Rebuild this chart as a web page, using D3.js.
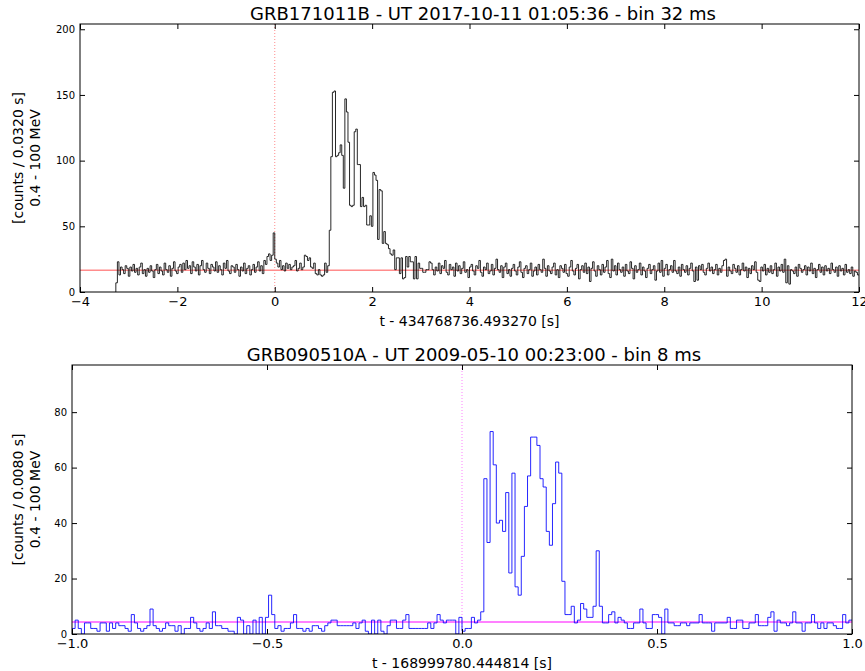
<!DOCTYPE html>
<html>
<head>
<meta charset="utf-8">
<script src="https://cdnjs.cloudflare.com/ajax/libs/d3/7.8.5/d3.min.js"></script>
<style>
body { margin: 0; background: #fff; }
text { font-family: "DejaVu Sans", sans-serif; fill: #000; }
</style>
</head>
<body>
<svg width="865" height="671"></svg>
<script>
// light curves

// GRB171011B, 32 ms bins, first bin starts at t = -3.264 s
var grbA_title = "GRB171011B - UT 2017-10-11 01:05:36 - bin 32 ms";
var grbA_xlabel = "t - 434768736.493270 [s]";
var grbA_ylabel = ["[counts / 0.0320 s]", "0.4 - 100 MeV"];
var grbA_start = -3.264, grbA_bin = 0.032;
var grbA_bkg = 16.6;
var grbA_xticks = [-4, -2, 0, 2, 4, 6, 8, 10, 12];
var grbA_yticks = [0, 50, 100, 150, 200];
var grbA_counts = [
  7, 23, 13, 19, 17, 14, 20, 18, 12, 19, 16, 21, 15, 18, 13, 19, 22, 14, 17, 12,
  18, 15, 20, 16, 11, 17, 21, 14, 19, 16, 13, 22, 17, 15, 20, 12, 18, 23, 16, 14,
  19, 21, 15, 22, 17, 24, 18, 20, 14, 23, 19, 16, 21, 13, 20, 24, 17, 15, 22, 18,
  14, 21, 19, 16, 23, 15, 20, 17, 13, 22, 18, 24, 16, 14, 20, 19, 15, 21, 17, 12,
  19, 16, 22, 14, 18, 20, 13, 17, 21, 15, 19, 23, 16, 20, 14, 24, 21, 27, 29, 24,
  28, 45, 25, 22, 19, 24, 17, 20, 16, 22, 18, 21, 17, 19, 20, 24, 16, 18, 22, 17,
  19, 28, 27, 24, 26, 19, 18, 22, 14, 13, 17, 13, 12, 13, 22, 15, 20, 47, 103, 152,
  153, 103, 104, 106, 112, 104, 79, 147, 137, 114, 66, 65, 66, 122, 124, 97, 97, 65, 72, 65,
  66, 51, 51, 58, 50, 91, 89, 85, 40, 78, 77, 37, 46, 37, 36, 33, 29, 28, 32, 17,
  26, 26, 14, 26, 10, 11, 27, 19, 27, 23, 23, 10, 27, 10, 22, 18, 18, 15, 15, 17,
  17, 23, 22, 17, 13, 19, 16, 22, 14, 20, 18, 24, 15, 13, 21, 17, 19, 12, 22, 16,
  20, 14, 18, 23, 15, 17, 11, 19, 21, 16, 13, 20, 18, 24, 15, 12, 19, 17, 22, 14,
  16, 21, 13, 18, 25, 17, 15, 20, 11, 19, 22, 14, 17, 12, 18, 21, 16, 13, 19, 23,
  15, 11, 18, 20, 14, 17, 22, 12, 16, 19, 13, 21, 17, 15, 25, 18, 12, 20, 16, 14,
  19, 22, 13, 17, 11, 20, 18, 15, 21, 14, 12, 19, 24, 16, 13, 18, 21, 10, 17, 20,
  15, 22, 14, 19, 8, 18, 23, 16, 12, 20, 17, 13, 21, 15, 19, 24, 14, 11, 25, 16,
  20, 13, 22, 17, 15, 19, 12, 21, 16, 14, 23, 18, 10, 20, 15, 17, 22, 13, 19, 16,
  11, 18, 21, 14, 17, 20, 9, 16, 22, 15, 24, 12, 18, 21, 13, 17, 20, 15, 24, 16,
  14, 19, 12, 21, 17, 15, 20, 13, 18, 22, 16, 8, 19, 9, 20, 17, 21, 15, 13, 18,
  22, 16, 19, 14, 17, 21, 13, 18, 15, 20, 24, 25, 12, 19, 16, 14, 21, 18, 15, 20,
  13, 17, 22, 16, 19, 11, 18, 14, 20, 17, 23, 15, 9, 8, 19, 16, 21, 13, 18, 15,
  20, 14, 17, 22, 12, 19, 16, 21, 15, 25, 7, 20, 6, 17, 16, 14, 19, 12, 21, 18,
  15, 17, 20, 13, 19, 16, 22, 14, 18, 11, 17, 21, 15, 19, 13, 20, 16, 18, 14, 22,
  17, 15, 19, 12, 20, 16, 18, 13, 21, 15, 17, 14, 19, 12, 16, 15, 13
];

// GRB090510A, 8 ms bins from -1 to 1 s
var grbB_title = "GRB090510A - UT 2009-05-10 00:23:00 - bin 8 ms";
var grbB_xlabel = "t - 168999780.444814 [s]";
var grbB_ylabel = ["[counts / 0.0080 s]", "0.4 - 100 MeV"];
var grbB_start = -1, grbB_bin = 0.008;
var grbB_bkg = 4.3;
var grbB_xticks = [-1, -0.5, 0, 0.5, 1];
var grbB_yticks = [0, 20, 40, 60, 80];
var grbB_counts = [
  2, 5, 2, 0, 4, 4, 2, 2, 1, 4, 4, 1, 4, 2, 4, 3, 3, 2, 1, 7,
  4, 2, 1, 2, 3, 9, 3, 2, 1, 2, 4, 3, 3, 1, 3, 0, 2, 2, 6, 4,
  2, 1, 2, 4, 2, 8, 3, 3, 2, 2, 1, 1, 0, 6, 5, 0, 3, 0, 5, 0,
  6, 0, 6, 14, 7, 2, 3, 1, 2, 2, 4, 7, 2, 2, 1, 2, 1, 3, 3, 2,
  1, 3, 4, 5, 5, 3, 3, 3, 3, 3, 4, 2, 4, 5, 1, 0, 5, 0, 5, 1,
  0, 3, 5, 5, 2, 2, 5, 7, 2, 2, 2, 2, 2, 2, 4, 2, 4, 7, 5, 4,
  5, 5, 5, 0, 6, 1, 2, 2, 6, 4, 5, 8, 56, 33, 73, 61, 40, 41, 37, 51,
  22, 58, 17, 14, 28, 46, 57, 71, 71, 68, 56, 53, 37, 32, 47, 62, 58, 19, 7, 7,
  10, 4, 5, 11, 9, 6, 6, 10, 30, 10, 4, 4, 7, 8, 4, 6, 5, 4, 2, 2,
  4, 4, 9, 4, 2, 2, 7, 7, 6, 0, 9, 4, 4, 3, 3, 4, 4, 3, 4, 4,
  4, 7, 4, 4, 4, 1, 4, 4, 4, 4, 6, 2, 2, 5, 5, 2, 2, 4, 4, 7,
  3, 3, 3, 6, 8, 1, 5, 4, 4, 3, 4, 8, 4, 4, 1, 4, 4, 7, 4, 2,
  4, 2, 4, 4, 3, 2, 2, 7, 4, 5
];

var svg = d3.select("svg");

function panel(cfg) {
  var x = d3.scaleLinear().domain(cfg.xdomain).range([cfg.left, cfg.right]),
      y = d3.scaleLinear().domain(cfg.ydomain).range([cfg.bottom, cfg.top]);

  var g = svg.append("g");

  g.append("clipPath").attr("id", cfg.id + "-clip")
    .append("rect")
      .attr("x", cfg.left).attr("y", cfg.top)
      .attr("width", cfg.right - cfg.left).attr("height", cfg.bottom - cfg.top);

  var plot = g.append("g").attr("clip-path", "url(#" + cfg.id + "-clip)");

  // background level
  plot.append("line")
    .attr("x1", cfg.left).attr("x2", cfg.right)
    .attr("y1", y(cfg.bkg)).attr("y2", y(cfg.bkg))
    .attr("stroke", cfg.bkgColor).attr("stroke-width", cfg.bkgWidth);

  // trigger time
  plot.append("line")
    .attr("x1", x(0)).attr("x2", x(0))
    .attr("y1", cfg.top).attr("y2", cfg.bottom)
    .attr("stroke", cfg.bkgColor).attr("stroke-width", 1)
    .attr("stroke-dasharray", "1,2");

  // histogram as steps
  var pts = [];
  if (cfg.fromZero) pts.push([cfg.start, 0]);
  cfg.counts.forEach(function(c, i) { pts.push([cfg.start + i * cfg.bin, c]); });
  pts.push([cfg.start + cfg.counts.length * cfg.bin, cfg.counts[cfg.counts.length - 1]]);

  plot.append("path")
    .datum(pts)
    .attr("fill", "none")
    .attr("stroke", cfg.color)
    .attr("stroke-width", 1)
    .attr("stroke-opacity", cfg.opacity)
    .attr("d", d3.line()
      .curve(d3.curveStepAfter)
      .x(function(d) { return x(d[0]); })
      .y(function(d) { return y(d[1]); }));

  // axes, ticks pointing inwards on all sides
  g.append("g")
    .attr("transform", "translate(0," + cfg.bottom + ")")
    .call(d3.axisBottom(x).tickValues(cfg.xticks).tickFormat(cfg.xfmt)
      .tickSizeInner(-5).tickSizeOuter(0).tickPadding(5))
    .call(function(a) { a.selectAll("text").style("font-size", "13px"); });
  g.append("g")
    .attr("transform", "translate(0," + cfg.top + ")")
    .call(d3.axisTop(x).tickValues(cfg.xticks).tickFormat("")
      .tickSizeInner(-5).tickSizeOuter(0));
  g.append("g")
    .attr("transform", "translate(" + cfg.left + ",0)")
    .call(d3.axisLeft(y).tickValues(cfg.yticks)
      .tickSizeInner(-5).tickSizeOuter(0).tickPadding(5))
    .call(function(a) { a.selectAll("text").style("font-size", "10px"); });
  g.append("g")
    .attr("transform", "translate(" + cfg.right + ",0)")
    .call(d3.axisRight(y).tickValues(cfg.yticks).tickFormat("")
      .tickSizeInner(-5).tickSizeOuter(0));
  g.selectAll(".domain").remove();
  g.selectAll(".tick line").attr("stroke", "#000");

  g.append("rect")
    .attr("x", cfg.left).attr("y", cfg.top)
    .attr("width", cfg.right - cfg.left).attr("height", cfg.bottom - cfg.top)
    .attr("fill", "none").attr("stroke", "#000").attr("stroke-width", 1);

  g.append("text")
    .attr("x", cfg.titleX).attr("y", cfg.top - 4)
    .attr("text-anchor", "middle").style("font-size", "18px")
    .text(cfg.title);

  g.append("text")
    .attr("x", (cfg.left + cfg.right) / 2).attr("y", cfg.bottom + 34)
    .attr("text-anchor", "middle").style("font-size", "14px")
    .text(cfg.xlabel);

  cfg.ylabel.forEach(function(s, i) {
    g.append("text")
      .attr("transform", "translate(" + (23 + i * 17) + "," + ((cfg.top + cfg.bottom) / 2) + ") rotate(-90)")
      .attr("text-anchor", "middle").style("font-size", "14px")
      .text(s);
  });
}

panel({
  id: "a", left: 80, right: 859, top: 24, bottom: 292, titleX: 483,
  xdomain: [-4, 12], ydomain: [0, 204],
  xticks: grbA_xticks, yticks: grbA_yticks, xfmt: d3.format("d"),
  counts: grbA_counts, start: grbA_start, bin: grbA_bin, fromZero: true,
  bkg: grbA_bkg, bkgColor: "#ff8c8c", bkgWidth: 1.5,
  color: "#111", opacity: 0.9,
  title: grbA_title, xlabel: grbA_xlabel, ylabel: grbA_ylabel
});

panel({
  id: "b", left: 72, right: 852, top: 365, bottom: 634, titleX: 474,
  xdomain: [-1, 1], ydomain: [0, 97],
  xticks: grbB_xticks, yticks: grbB_yticks, xfmt: d3.format(".1f"),
  counts: grbB_counts, start: grbB_start, bin: grbB_bin, fromZero: false,
  bkg: grbB_bkg, bkgColor: "#ff80ff", bkgWidth: 2,
  color: "#0000ff", opacity: 0.85,
  title: grbB_title, xlabel: grbB_xlabel, ylabel: grbB_ylabel
});
</script>
</body>
</html>
